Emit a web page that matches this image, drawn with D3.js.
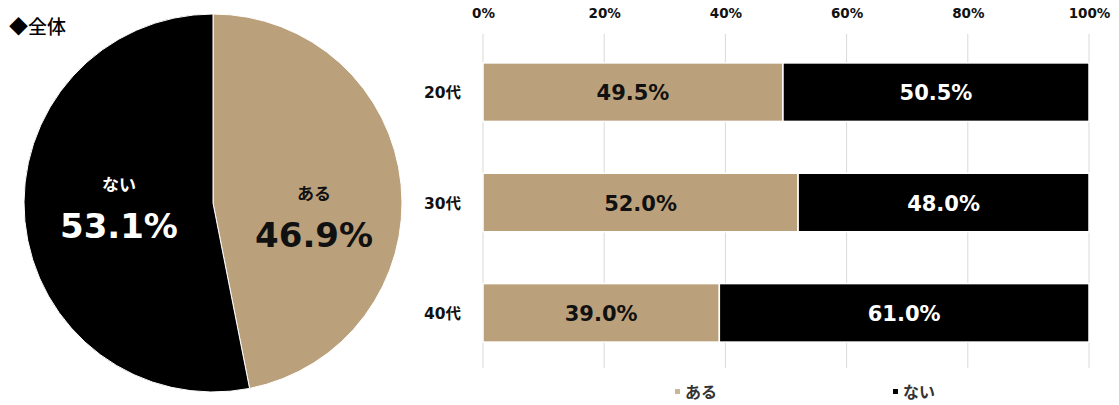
<!DOCTYPE html>
<html>
<head>
<meta charset="utf-8">
<script src="https://cdn.jsdelivr.net/npm/d3@7"></script>
<style>
  body { margin: 0; background: #fff; }
  svg { display: block; font-family: "DejaVu Sans", "Noto Sans CJK JP", sans-serif; }
</style>
</head>
<body>
<div id="chart"></div>
<script>
// overall pie data
const pieLabels = ['ある', 'ない'];
const pieValues = [46.9, 53.1];

// bar chart data by age group
const ageGroups = ['20代', '30代', '40代'];
const aruValues = [49.5, 52.0, 39.0];
const naiValues = [50.5, 48.0, 61.0];
const tickValues = [0, 20, 40, 60, 80, 100];

const tan = '#bba17b';
const black = '#000000';
const colors = [tan, black];
const textColors = ['#111', '#fff'];
const cjk = '"Noto Sans CJK JP", sans-serif';

const width = 1119;
const height = 405;

const svg = d3.select('#chart')
  .append('svg')
    .attr('width', width)
    .attr('height', height);

//  Pie chart //
const radius = 189;
const pieG = svg.append('g')
  .attr('transform', `translate(213,203)`);

svg.append('text')
  .attr('x', 9)
  .attr('y', 34)
  .attr('font-size', 19)
  .attr('font-family', cjk)
  .attr('font-weight', 500)
  .text('◆全体');

const pie = d3.pie().sort(null).value(d => d);
const slices = pie(pieValues);
const arc = d3.arc().innerRadius(0).outerRadius(radius);

pieG.selectAll('path')
  .data(slices)
  .join('path')
    .attr('d', arc)
    .attr('fill', (d, i) => colors[i])
    .attr('stroke', '#fff')
    .attr('stroke-width', 1);

// label block placed around the slice centroid, nudged like Excel does
const labelArc = d3.arc().innerRadius(radius * 0.5).outerRadius(radius * 0.5);
const nudge = [[7, 23], [0, -4]];
slices.forEach((d, i) => {
  const c = labelArc.centroid(d);
  const cx = c[0] + nudge[i][0];
  const cy = c[1] + nudge[i][1];
  pieG.append('text')
    .attr('x', cx)
    .attr('y', cy - 17)
    .attr('text-anchor', 'middle')
    .attr('font-size', 17)
    .attr('font-family', cjk)
    .attr('font-weight', 700)
    .attr('fill', textColors[i])
    .text(pieLabels[i]);
  pieG.append('text')
    .attr('x', cx)
    .attr('y', cy + 30)
    .attr('text-anchor', 'middle')
    .attr('font-size', 34)
    .attr('font-weight', 700)
    .attr('fill', textColors[i])
    .text(pieValues[i].toFixed(1) + '%');
});

//  Bar chart //
const plot = { left: 483, right: 1089, top: 37, bottom: 368 };

const x = d3.scaleLinear()
  .domain([0, 100])
  .range([plot.left, plot.right]);

const y = d3.scaleBand()
  .domain(ageGroups)
  .range([plot.top, plot.bottom])
  .paddingInner(0.47)
  .paddingOuter(0.235);

// gridlines
svg.append('g')
  .selectAll('line')
  .data(tickValues)
  .join('line')
    .attr('x1', d => x(d))
    .attr('x2', d => x(d))
    .attr('y1', plot.top - 3)
    .attr('y2', plot.bottom)
    .attr('stroke', '#d9d9d9')
    .attr('stroke-width', 1);

// top axis labels
const xAxis = svg.append('g')
  .attr('transform', `translate(0,21)`)
  .call(d3.axisTop(x).tickValues(tickValues).tickFormat(d => d + '%').tickSize(0));
xAxis.select('.domain').remove();
xAxis.selectAll('text')
  .attr('font-family', '"DejaVu Sans", sans-serif')
  .attr('font-size', 13.5)
  .attr('font-weight', 700)
  .attr('fill', '#111')
  .attr('dy', 0);

// category labels
svg.append('g')
  .selectAll('text')
  .data(ageGroups)
  .join('text')
    .attr('x', 461)
    .attr('y', d => y(d) + y.bandwidth() / 2 + 6)
    .attr('text-anchor', 'end')
    .attr('font-size', 15.5)
    .attr('font-weight', 700)
    .attr('fill', '#111')
    .text(d => d);

// stacked segments
const rows = ageGroups.map((g, i) => ({ group: g, values: [aruValues[i], naiValues[i]] }));
rows.forEach(row => {
  let start = 0;
  row.values.forEach((v, j) => {
    svg.append('rect')
      .attr('x', x(start))
      .attr('y', y(row.group))
      .attr('width', x(start + v) - x(start))
      .attr('height', y.bandwidth())
      .attr('fill', colors[j])
      .attr('stroke', '#fff')
      .attr('stroke-width', 1.5);
    svg.append('text')
      .attr('x', x(start + v / 2))
      .attr('y', y(row.group) + y.bandwidth() / 2 + 8)
      .attr('text-anchor', 'middle')
      .attr('font-size', 21)
      .attr('font-weight', 700)
      .attr('fill', textColors[j])
      .text(v.toFixed(1) + '%');
    start += v;
  });
});

// legend
const legendX = [675, 893];
pieLabels.forEach((name, i) => {
  svg.append('rect')
    .attr('x', legendX[i])
    .attr('y', 389)
    .attr('width', 5)
    .attr('height', 5)
    .attr('fill', i === 0 ? '#c8b697' : black);
  svg.append('text')
    .attr('x', legendX[i] + 10)
    .attr('y', 398)
    .attr('font-size', 16)
    .attr('font-family', cjk)
    .attr('font-weight', 700)
    .attr('fill', '#333')
    .text(name);
});
</script>
</body>
</html>
